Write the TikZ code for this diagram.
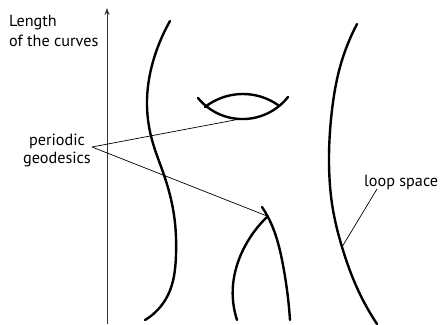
\documentclass[tikz,border=0pt]{standalone}
\usepackage{fontspec}
\setmainfont{PT Sans}
\usetikzlibrary{arrows.meta,positioning,calc,hobby}
\tikzset{
  curve/.style={line width=2.4pt,line cap=round,use Hobby shortcut},
  pointer/.style={line width=0.7pt},
  axis/.style={line width=1pt,draw=black!80,-{Stealth[length=7pt,width=5pt]}},
  lbl/.style={font=\fontsize{16.2}{20}\selectfont,inner sep=1pt}
}
\begin{document}
\begin{tikzpicture}[x=1pt,y=-1pt]
\useasboundingbox (0,0) rectangle (444,324);
\coordinate (axisbot) at (107,324); \coordinate (axistop) at (107,8);
\draw[axis] (axisbot) -- (axistop);
\node[lbl,anchor=base west,align=left] (len) at (8,46) {Length\\of the curves};
\node[lbl,anchor=base east,align=center,font=\fontsize{16.2}{18}\selectfont] (geo) at (92,163) {periodic\\geodesics};
\node[lbl,anchor=base west] (loop) at (363,186) {loop space};
\draw[curve] (170,21) .. (155,55) .. (147,100) .. (152,140) .. (164,175) .. (174,215) .. (176,255) .. (168,295) .. (145,320);
\draw[curve] (357,24) .. (340,67) .. (332,110) .. (329,162) .. (333,210) .. (342,247) .. (358,290) .. (377,324);
\draw[curve] (198,98) .. (240,119) .. (288,97);
\draw[curve] (205,107) .. (242,94) .. (278,105);
\draw[curve] (262,207) .. (268,217) .. (283,265) .. (290,320);
\draw[curve] (237,320) .. (233,285) .. (243,250) .. (267,217);
\coordinate (lensbot) at (240,119); \coordinate (archtop) at (267,216); \coordinate (loopcurve) at (342,247);
\draw[pointer] ([yshift=16pt]geo.base east) -- (lensbot);
\draw[pointer] ([yshift=16pt]geo.base east) -- (archtop);
\draw[pointer] ([xshift=14pt,yshift=-3pt]loop.base west) -- (loopcurve);
\end{tikzpicture}
\end{document}
